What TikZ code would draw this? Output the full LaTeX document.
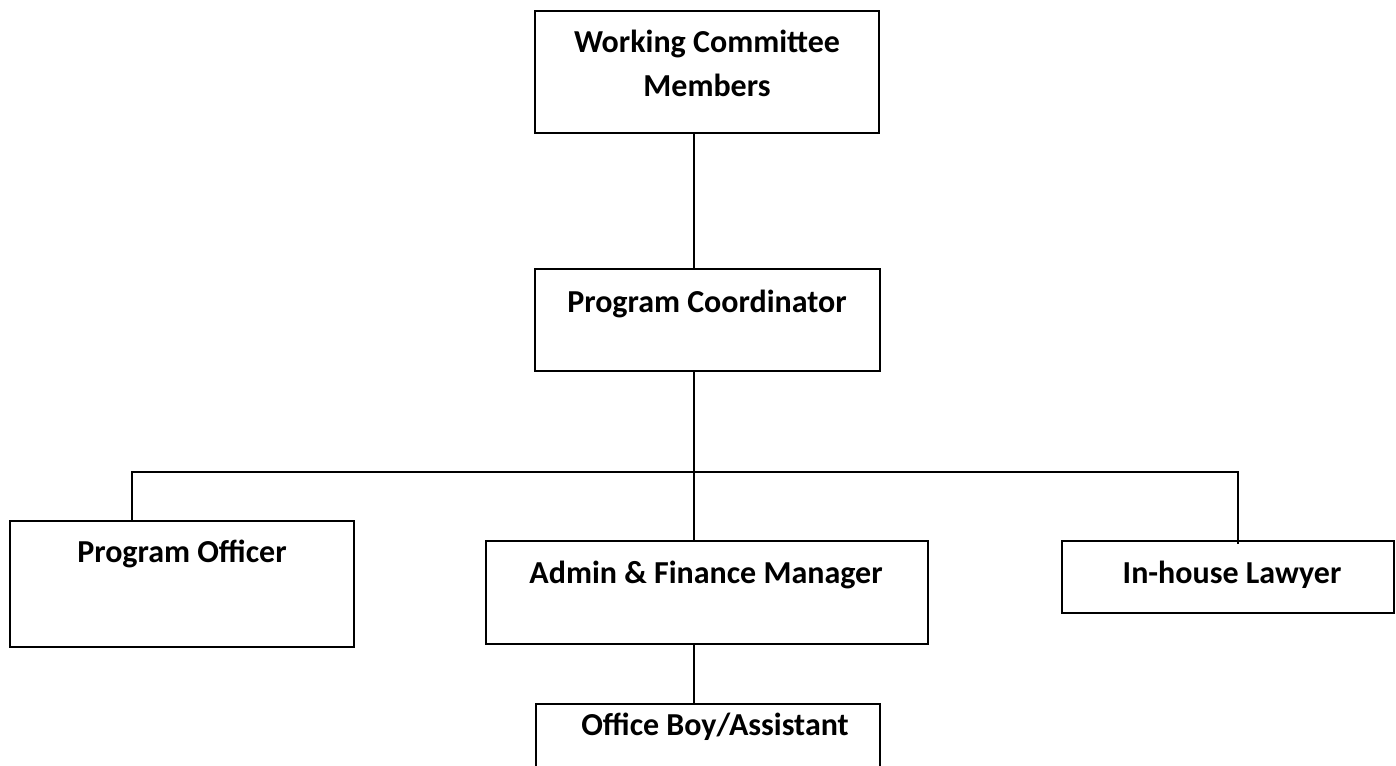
\documentclass[tikz,border=0pt]{standalone}
\usepackage{fontspec}
\setmainfont{Carlito}
\begin{document}
\begin{tikzpicture}[x=1pt,y=-1pt,
  box/.style={draw=black,line width=1.8pt,rectangle,inner sep=0pt},
  lbl/.style={inner sep=0pt,anchor=base,font=\fontsize{32}{40}\selectfont\bfseries},
  conn/.style={draw=black,line width=1.8pt}]
\useasboundingbox (0,0) rectangle (1396,765);
\clip (0,0) rectangle (1396,765);
% boxes
\node[box,minimum width=344pt,minimum height=122pt] (wc) at (707,72) {};
\node[box,minimum width=345pt,minimum height=102pt] (pc) at (707.5,320) {};
\node[box,minimum width=344pt,minimum height=126pt] (po) at (182,584) {};
\node[box,minimum width=442pt,minimum height=103pt] (afm) at (707,592.5) {};
\node[box,minimum width=332pt,minimum height=72pt] (ihl) at (1228,577) {};
\node[box,minimum width=344pt,minimum height=142pt] (ob) at (708,775) {};
% labels
\node[lbl] (wct1) at (707,53) {Working Committee};
\node[lbl] (wct2) at (707,97) {Members};
\node[lbl] (pct) at (707,312) {Program Coordinator};
\node[lbl] (pot) at (182,562) {Program Officer};
\node[lbl] (afmt) at (706,583) {Admin \& Finance Manager};
\node[lbl] (ihlt) at (1232,583) {In-house Lawyer};
\node[lbl] (obt) at (715,735) {Office Boy/Assistant};
% connectors
\coordinate (sp) at (694,0);
\coordinate (bus) at (694,472);
\coordinate (bl) at (132,472);
\coordinate (br) at (1238,472);
\draw[conn] (wc.south -| sp) -- (pc.north -| sp);
\draw[conn] (pc.south -| sp) -- (bus);
\draw[conn] (po.north -| bl) -- (bl) -- (br) -- ([yshift=-4pt]ihl.north -| br);
\draw[conn] (bus) -- (afm.north -| sp);
\draw[conn] (afm.south -| sp) -- (ob.north -| sp);
\end{tikzpicture}
\end{document}
